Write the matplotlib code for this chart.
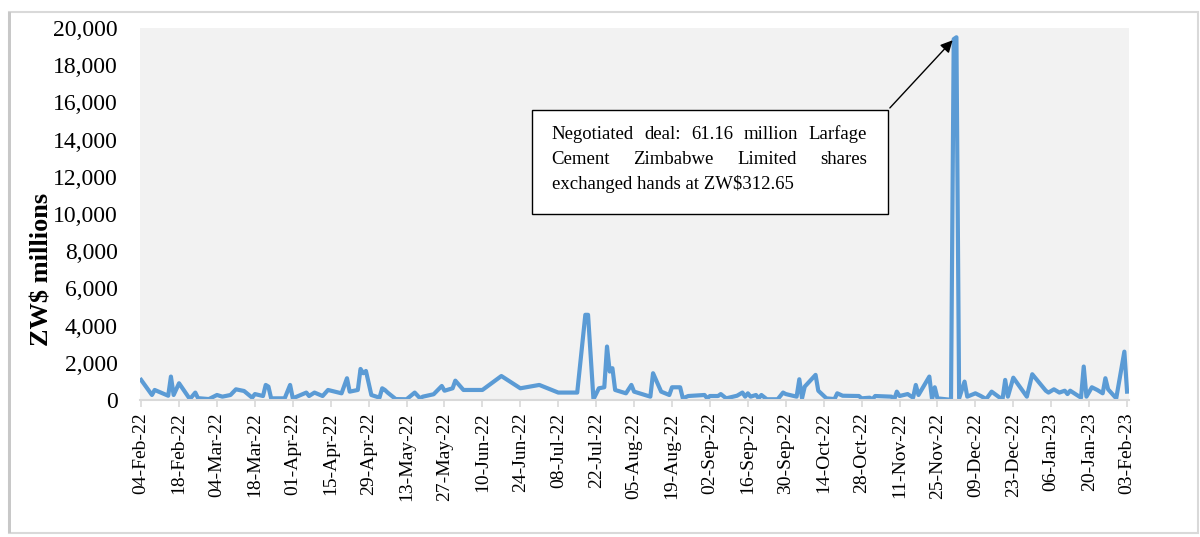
import pandas as pd
import matplotlib
matplotlib.use("Agg")
import matplotlib.pyplot as plt
import matplotlib.dates as mdates
from matplotlib.patches import Rectangle

plt.rcParams['font.family'] = ['Liberation Serif', 'DejaVu Serif']

# daily value traded on the ZSE, ZW$ millions
start_date = "2022-02-04"
day_offsets = [0, 4, 5, 10, 11, 12, 14, 18, 20, 21, 25, 28, 30, 33, 35, 38, 41, 42, 45, 46,
               47, 48, 53, 55, 56, 61, 62, 64, 67, 69, 74, 76, 77, 80, 81, 82, 83, 85, 88, 89,
               90, 91, 94, 98, 101, 103, 104, 108, 111, 112, 115, 116, 119, 126, 133, 140, 147, 154, 161, 164,
               165, 167, 169, 171, 172, 173, 174, 175, 179, 181, 182, 188, 189, 192, 195, 196, 199, 200, 202, 208,
               209, 210, 213, 214, 216, 220, 222, 223, 224, 225, 227, 228, 229, 231, 235, 237, 238, 242, 243, 244,
               245, 249, 250, 253, 256, 257, 259, 265, 266, 269, 270, 271, 277, 278, 279, 280, 283, 285, 286, 287,
               291, 292, 293, 294, 299, 300, 301, 302, 304, 305, 308, 310, 312, 314, 318, 319, 320, 322, 327, 329,
               334, 335, 337, 339, 341, 342, 343, 347, 348, 349, 351, 353, 355, 356, 357, 360, 363, 364]
values = [1080, 270, 540, 230, 1260, 270, 900, 50, 400, 100, 50, 270, 180, 270, 575, 485, 125, 320, 215, 810,
          720, 90, 90, 810, 90, 400, 215, 400, 215, 540, 360, 1170, 450, 540, 1670, 1440, 1560, 270, 125, 630,
          540, 400, 50, 40, 400, 90, 180, 310, 755, 500, 630, 1040, 540, 540, 1290, 630, 810, 400, 400, 4580,
          4580, 40, 630, 685, 2875, 1530, 1710, 540, 360, 810, 450, 180, 1440, 450, 270, 685, 685, 90, 215, 270,
          90, 215, 215, 320, 90, 230, 400, 180, 360, 180, 270, 90, 270, 40, 40, 400, 320, 180, 1115, 90,
          720, 1350, 500, 90, 50, 360, 230, 215, 90, 125, 40, 215, 180, 10, 450, 215, 320, 125, 810, 270,
          1260, 50, 685, 90, 10, 19400, 19500, 90, 990, 180, 360, 215, 50, 450, 20, 1080, 180, 1200, 180, 1385,
          500, 400, 575, 400, 500, 320, 500, 125, 1800, 180, 685, 540, 360, 1170, 575, 90, 2600, 450]

dates = pd.to_datetime(start_date) + pd.to_timedelta(day_offsets, unit="D")
tick_dates = pd.date_range("2022-02-04", "2023-02-03", freq="14D")

note_lines = ["Negotiated deal: 61.16 million Larfage",
              "Cement Zimbabwe Limited shares",
              "exchanged hands at ZW$312.65"]

fig = plt.figure(figsize=(12, 5.37), dpi=100)
ax = fig.add_axes([0.1167, 0.2551, 0.8241, 0.6928])
ax.set_facecolor("#F2F2F2")

# outer chart frame
fig.patches.append(Rectangle((9 / 1200, 4 / 537), 1189 / 1200, 521 / 537, transform=fig.transFigure,
                             fill=False, edgecolor="#D9D9D9", linewidth=1.5))
fig.patches.append(Rectangle((8 / 1200, 4 / 537), 3 / 1200, 521 / 537, transform=fig.transFigure,
                             facecolor="#C8C8C8", edgecolor="none"))

ax.plot(dates, values, color="#5B9BD5", linewidth=3.0, solid_joinstyle="round")

ax.set_ylim(0, 20000)
ax.set_xlim(pd.Timestamp("2022-02-04") - pd.Timedelta(days=0.4),
            pd.Timestamp("2023-02-03") + pd.Timedelta(days=0.7))
ax.set_yticks(range(0, 20001, 2000))
ax.yaxis.set_major_formatter(matplotlib.ticker.FuncFormatter(lambda v, p: f"{int(v):,}"))
ax.tick_params(axis="y", length=0, pad=16, labelsize=17)

ax.set_xticks(tick_dates)
ax.xaxis.set_major_formatter(mdates.DateFormatter("%d-%b-%y"))
ax.tick_params(axis="x", length=5, width=1.2, color="#D9D9D9", labelsize=14, pad=4)
plt.setp(ax.get_xticklabels(), rotation=90)

for s in ["top", "right", "left"]:
    ax.spines[s].set_visible(False)
ax.spines["bottom"].set_color("#D9D9D9")
ax.spines["bottom"].set_linewidth(1.5)

ax.set_ylabel("ZW$ millions", fontsize=19, fontweight="bold")
ax.yaxis.set_label_coords(-0.088, 0.35)

# annotation box with arrow to the spike
box_l, box_r, box_b, box_t = 0.3964, 0.7563, 0.5, 0.7796
ax.add_patch(Rectangle((box_l, box_b), box_r - box_l, box_t - box_b, transform=ax.transAxes,
                       facecolor="white", edgecolor="black", linewidth=1, zorder=3))
ax.annotate("", xy=(pd.Timestamp("2022-12-01") + pd.Timedelta(days=0.3), 19450),
            xytext=(box_r, box_t), textcoords="axes fraction",
            arrowprops=dict(arrowstyle="-|>", color="black", lw=1, mutation_scale=18), zorder=4)

txt_l, txt_r = 0.4163, 0.7348
baselines = [0.7008, 0.6344, 0.5672]
fig.canvas.draw()
renderer = fig.canvas.get_renderer()
for i, line in enumerate(note_lines):
    if i == len(note_lines) - 1:
        ax.text(txt_l, baselines[i], line, transform=ax.transAxes, fontsize=13.5,
                va="baseline", ha="left", zorder=5)
        continue
    words = line.split()
    items = [ax.text(0, baselines[i], w, transform=ax.transAxes, fontsize=13.5,
                     va="baseline", ha="left", zorder=5) for w in words]
    widths = [t.get_window_extent(renderer).width / ax.bbox.width for t in items]
    gap = (txt_r - txt_l - sum(widths)) / (len(words) - 1)
    x = txt_l
    for t, w in zip(items, widths):
        t.set_x(x)
        x += w + gap

fig.savefig("out.png", dpi=100)
